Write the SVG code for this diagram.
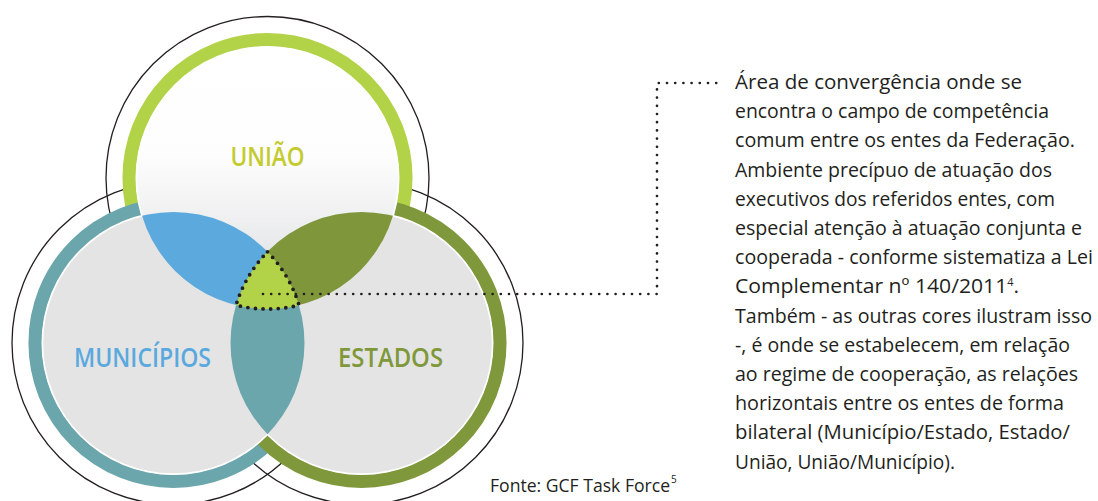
<svg xmlns="http://www.w3.org/2000/svg" width="1098" height="501" viewBox="0 0 1098 501">
  <style>
    .outline { fill: none; stroke: #231f20; stroke-width: 1.3; }
    .ring { fill: none; stroke-width: 13.5; }
    .gap { fill: #ffffff; }
    .label { font-family: "Open Sans", "Noto Sans", sans-serif; font-weight: 600; font-size: 27px; text-anchor: middle; }
    .body { font-family: "Open Sans", "Noto Sans", sans-serif; font-size: 19.5px; fill: #231f20; }
    .src { font-family: "Open Sans", "Noto Sans", sans-serif; font-size: 17.5px; fill: #231f20; }
    .sup { font-family: "Open Sans", "Noto Sans", sans-serif; font-size: 10px; fill: #231f20; }
    .dots { fill: none; stroke: #231f20; stroke-linecap: round; }
  </style>
  <defs>
    <linearGradient id="topFill" x1="0" y1="0" x2="0" y2="1">
      <stop offset="0" stop-color="#ffffff"/>
      <stop offset="0.42" stop-color="#fdfdfd"/>
      <stop offset="0.75" stop-color="#e9eaeb"/>
      <stop offset="1" stop-color="#cfd0d2"/>
    </linearGradient>
    <clipPath id="clipT"><circle cx="267.5" cy="178" r="131"/></clipPath>
    <clipPath id="clipL"><circle cx="173.5" cy="343" r="131"/></clipPath>
    <clipPath id="clipR"><circle cx="361.5" cy="343" r="131"/></clipPath>
  </defs>
  <rect width="1098" height="501" fill="#ffffff"/>

  <!-- outer thin outlines -->
  <g id="outlines">
    <circle class="outline" cx="267.5" cy="178" r="161.5"/>
    <circle class="outline" cx="173.5" cy="343" r="161.5"/>
    <circle class="outline" cx="361.5" cy="343" r="161.5"/>
  </g>

  <!-- coloured rings -->
  <g id="rings">
    <circle class="ring" cx="267.5" cy="178" r="138.3" stroke="#b2d347"/>
    <circle class="ring" cx="173.5" cy="343" r="138.3" stroke="#6aa6ab"/>
    <circle class="ring" cx="361.5" cy="343" r="138.3" stroke="#7f983b"/>
  </g>

  <!-- white gaps and fills -->
  <g id="fills">
    <circle class="gap" cx="267.5" cy="178" r="132"/>
    <circle class="gap" cx="173.5" cy="343" r="132"/>
    <circle class="gap" cx="361.5" cy="343" r="132"/>
    <circle cx="173.5" cy="343" r="130.3" fill="#e4e4e5"/>
    <circle cx="361.5" cy="343" r="130.3" fill="#e4e4e5"/>
    <circle cx="267.5" cy="178" r="130.3" fill="url(#topFill)"/>
  </g>

  <!-- intersections -->
  <g id="lens-uniao-municipios">
    <circle cx="173.5" cy="343" r="131" fill="#5ca9dd" clip-path="url(#clipT)"/>
  </g>
  <g id="lens-uniao-estados">
    <circle cx="361.5" cy="343" r="131" fill="#7f973a" clip-path="url(#clipT)"/>
  </g>
  <g id="lens-municipios-estados">
    <circle cx="361.5" cy="343" r="131" fill="#6aa6ab" clip-path="url(#clipL)"/>
  </g>
  <g id="center-area">
    <path d="M267.5,251.8 A131,131 0 0 1 299,305.2 A131,131 0 0 1 236,305.2 A131,131 0 0 1 267.5,251.8 Z" fill="#b2d347"/>
  </g>

  <!-- labels -->
  <g id="node-uniao">
    <text class="label" x="267.5" y="166" fill="#c3cb2f" textLength="74" lengthAdjust="spacingAndGlyphs">UNIÃO</text>
  </g>
  <g id="node-municipios">
    <text class="label" x="142.5" y="367" fill="#5aa9de" textLength="137" lengthAdjust="spacingAndGlyphs">MUNICÍPIOS</text>
  </g>
  <g id="node-estados">
    <text class="label" x="390.5" y="367" fill="#7f983a" textLength="105" lengthAdjust="spacingAndGlyphs">ESTADOS</text>
  </g>

  <!-- connectors (dotted callout) -->
  <g id="connectors">
    <path class="dots" d="M267.5,251.8 A131,131 0 0 1 299,305.2 A131,131 0 0 1 236,305.2 A131,131 0 0 1 267.5,251.8 Z" stroke-width="3.8" stroke-dasharray="0 7.6"/>
    <path class="dots" d="M263,294 H657 V83 H720" stroke-width="2.7" stroke-dasharray="0 8.2"/>
  </g>

  <!-- description text -->
  <g id="description">
    <text class="body" x="735" y="89" textLength="287" lengthAdjust="spacingAndGlyphs">Área de convergência onde se</text>
    <text class="body" x="735" y="118.2" textLength="314" lengthAdjust="spacingAndGlyphs">encontra o campo de competência</text>
    <text class="body" x="735" y="147.4" textLength="340" lengthAdjust="spacingAndGlyphs">comum entre os entes da Federação.</text>
    <text class="body" x="735" y="176.6" textLength="317" lengthAdjust="spacingAndGlyphs">Ambiente precípuo de atuação dos</text>
    <text class="body" x="735" y="205.8" textLength="320" lengthAdjust="spacingAndGlyphs">executivos dos referidos entes, com</text>
    <text class="body" x="735" y="235" textLength="347" lengthAdjust="spacingAndGlyphs">especial atenção à atuação conjunta e</text>
    <text class="body" x="735" y="264.2" textLength="358" lengthAdjust="spacingAndGlyphs">cooperada - conforme sistematiza a Lei</text>
    <text class="body" x="735" y="293.4" textLength="284" lengthAdjust="spacingAndGlyphs">Complementar nº 140/2011<tspan class="sup" dy="-7.5">4</tspan><tspan dy="7.5">.</tspan></text>
    <text class="body" x="735" y="322.6" textLength="357" lengthAdjust="spacingAndGlyphs">Também - as outras cores ilustram isso</text>
    <text class="body" x="735" y="351.8" textLength="335" lengthAdjust="spacingAndGlyphs">-, é onde se estabelecem, em relação</text>
    <text class="body" x="735" y="381" textLength="343" lengthAdjust="spacingAndGlyphs">ao regime de cooperação, as relações</text>
    <text class="body" x="735" y="410.2" textLength="329" lengthAdjust="spacingAndGlyphs">horizontais entre os entes de forma</text>
    <text class="body" x="735" y="439.4" textLength="335" lengthAdjust="spacingAndGlyphs">bilateral (Município/Estado, Estado/</text>
    <text class="body" x="735" y="468.6" textLength="220" lengthAdjust="spacingAndGlyphs">União, União/Município).</text>
  </g>

  <g id="source">
    <text class="src" x="490" y="492" textLength="180" lengthAdjust="spacingAndGlyphs">Fonte: GCF Task Force</text>
    <text class="sup" x="671" y="483">5</text>
  </g>
</svg>
